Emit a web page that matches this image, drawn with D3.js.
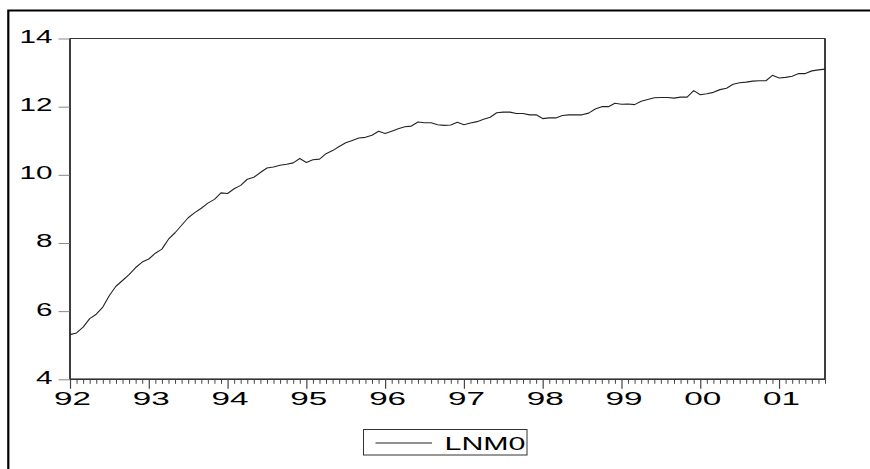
<!DOCTYPE html>
<html>
<head>
<meta charset="utf-8">
<script src="https://cdn.jsdelivr.net/npm/d3@7"></script>
<style>
  html, body { margin: 0; padding: 0; background: #fff; overflow: hidden; }
  svg { display: block; }
  text { font-family: "Liberation Sans", Arial, sans-serif; fill: #000; }
</style>
</head>
<body>
<svg id="chart" width="870" height="469"></svg>
<script>
// Monthly observations 1992M01 .. 2001M08
const seriesName = "LNM0";
const yearLabels = ["92","93","94","95","96","97","98","99","00","01"];
const yTicks = [4, 6, 8, 10, 12, 14];
const lnm0 = [
  5.31, 5.36, 5.53, 5.78, 5.91, 6.12, 6.46, 6.73, 6.90, 7.07, 7.28, 7.44,
  7.53, 7.70, 7.82, 8.11, 8.30, 8.52, 8.74, 8.89, 9.02, 9.17, 9.28, 9.47,
  9.45, 9.59, 9.69, 9.87, 9.93, 10.07, 10.20, 10.23, 10.28, 10.31, 10.35, 10.48,
  10.36, 10.44, 10.46, 10.62, 10.71, 10.83, 10.94, 11.01, 11.08, 11.10, 11.16, 11.28,
  11.21, 11.28, 11.35, 11.41, 11.43, 11.55, 11.53, 11.53, 11.47, 11.45, 11.46, 11.54,
  11.47, 11.52, 11.56, 11.63, 11.69, 11.82, 11.84, 11.84, 11.80, 11.80, 11.76, 11.76,
  11.65, 11.67, 11.67, 11.74, 11.76, 11.76, 11.76, 11.81, 11.93, 12.00, 12.00, 12.10,
  12.07, 12.08, 12.06, 12.16, 12.21, 12.26, 12.27, 12.27, 12.25, 12.28, 12.28, 12.47,
  12.35, 12.38, 12.42, 12.50, 12.54, 12.66, 12.70, 12.72, 12.75, 12.76, 12.76, 12.92,
  12.84, 12.86, 12.89, 12.97, 12.97, 13.05, 13.08, 13.10
];

const svg = d3.select("#chart");

// outer frame: only its top and left edges fall inside the picture
svg.append("path")
  .attr("d", "M8.3,469V10.5H870")
  .attr("fill", "none").attr("stroke", "#000").attr("stroke-width", 2.2);

const L = 70, R = 825, T = 38.5, B = 379.3;

const x = d3.scaleLinear().domain([0, lnm0.length - 1]).range([L, R]);
const y = d3.scaleLinear().domain([4, 14]).range([B, T]);

// plot frame
svg.append("rect")
  .attr("x", L).attr("y", T).attr("width", R - L).attr("height", B - T)
  .attr("fill", "none").attr("stroke", "#333").attr("stroke-width", 1);
svg.append("line").attr("x1", L).attr("x2", L).attr("y1", T).attr("y2", B)
  .attr("stroke", "#333").attr("stroke-width", 1.8);
svg.append("line").attr("x1", R).attr("x2", R).attr("y1", T).attr("y2", B)
  .attr("stroke", "#333").attr("stroke-width", 1.8);

// y axis
const yAxis = d3.axisLeft(y).tickValues(yTicks).tickSize(11).tickPadding(5)
  .tickFormat(d3.format("d"));
const gy = svg.append("g").attr("transform", `translate(${L - 0.5},0)`).call(yAxis);
gy.select(".domain").remove();
gy.selectAll(".tick line").attr("stroke", "#888").attr("stroke-width", 1);
gy.selectAll(".tick text")
  .attr("font-size", 18)
  .attr("dy", "0.22em")
  .attr("x", -17)
  .each(function(d) {
    const s = String(d);
    d3.select(this).attr("textLength", s.length * 16.5).attr("lengthAdjust", "spacingAndGlyphs");
  });

// x axis: monthly minor ticks, yearly major ticks
const monthIdx = d3.range(0, lnm0.length);
const yearIdx = yearLabels.map((_, k) => k * 12);
const xMinor = d3.axisBottom(x).tickValues(monthIdx.filter(i => i % 12 !== 0)).tickSize(4.5).tickFormat("");
const gxm = svg.append("g").attr("transform", `translate(0,${B})`).call(xMinor);
gxm.select(".domain").remove();
gxm.selectAll(".tick line").attr("stroke", "#444").attr("stroke-width", 1);

const xMajor = d3.axisBottom(x).tickValues(yearIdx).tickSize(9.5).tickPadding(4)
  .tickFormat((d, k) => yearLabels[k]);
const gx = svg.append("g").attr("transform", `translate(0,${B})`).call(xMajor);
gx.select(".domain").attr("stroke", "#333").attr("stroke-width", 1.5).attr("d", `M${L},0H${R}`);
gx.selectAll(".tick line").attr("stroke", "#444").attr("stroke-width", 1.2);
gx.selectAll(".tick text")
  .attr("font-size", 18)
  .attr("text-anchor", "start")
  .attr("x", -16.5)
  .attr("y", 26).attr("dy", 0)
  .attr("textLength", 37).attr("lengthAdjust", "spacingAndGlyphs");

// series line
const line = d3.line().x((d, i) => x(i)).y(d => y(d));
svg.append("path")
  .datum(lnm0)
  .attr("d", line)
  .attr("fill", "none")
  .attr("stroke", "#222")
  .attr("stroke-width", 1.1)
  .attr("stroke-linejoin", "round");

// legend
const lg = svg.append("g");
lg.append("rect").attr("x", 363.5).attr("y", 429.5).attr("width", 163.5).attr("height", 25.5)
  .attr("fill", "#fff").attr("stroke", "#333").attr("stroke-width", 1);
lg.append("line").attr("x1", 375.5).attr("x2", 432).attr("y1", 443).attr("y2", 443)
  .attr("stroke", "#222").attr("stroke-width", 1);
lg.append("text").attr("x", 444.5).attr("y", 450.2)
  .attr("font-size", 18)
  .attr("textLength", 81).attr("lengthAdjust", "spacingAndGlyphs")
  .text(seriesName);
</script>
</body>
</html>
